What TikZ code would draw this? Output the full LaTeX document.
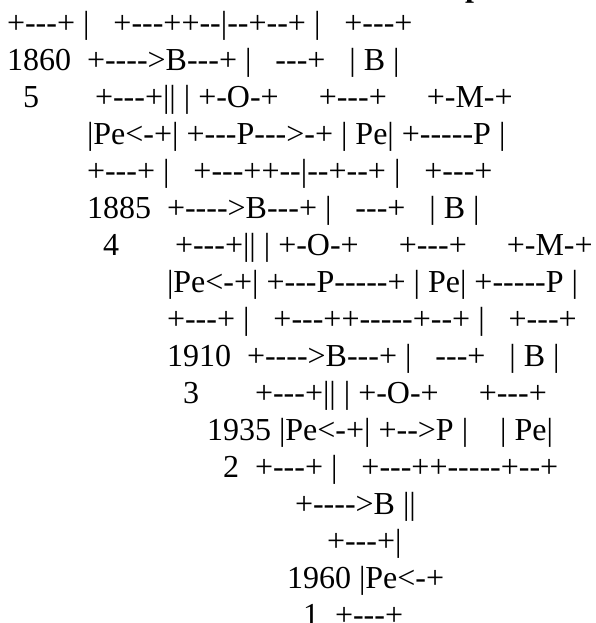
\documentclass[tikz,border=0pt]{standalone}
\usepackage{fontspec}
\newfontfamily\asciifont{Liberation Serif}
\usetikzlibrary{positioning}
\newcommand{\gap}[1]{\hspace*{#1\fontdimen2\font}}

\begin{document}
\begin{tikzpicture}[x=1pt, y=1pt,
    row/.style={anchor=base west, inner sep=0pt, outer sep=0pt, font=\asciifont\fontsize{32}{37}\selectfont},
    head/.style={row, font=\asciifont\bfseries\fontsize{32}{37}\selectfont}
]
    \useasboundingbox (0,0) rectangle (595,623);

    % cut-off heading above
    \node[head] (heading) at (465,626) {p};

    % block 1860
    \node[row] (r1) at (7,589) {+---+\gap1|\gap3+---++--|--+--+\gap1|\gap3+---+};
    \node[row] (r2) at (7,552.06) {1860\gap2+---->B---+\gap1|\gap3---+\gap3|\gap1B\gap1|};
    \node[row] (r3) at (23,515.12) {5\gap7+---+||\gap1|\gap1+-O-+\gap5+---+\gap5+-M-+};
    \node[row] (r4) at (87,478.18) {|Pe<-+|\gap1+---P--->-+\gap1|\gap1Pe|\gap1+-----P\gap1|};

    % block 1885
    \node[row] (r5) at (87,441.24) {+---+\gap1|\gap3+---++--|--+--+\gap1|\gap3+---+};
    \node[row] (r6) at (87,404.3) {1885\gap2+---->B---+\gap1|\gap3---+\gap3|\gap1B\gap1|};
    \node[row] (r7) at (103,367.36) {4\gap7+---+||\gap1|\gap1+-O-+\gap5+---+\gap5+-M-+};
    \node[row] (r8) at (167,330.42) {|Pe<-+|\gap1+---P-----+\gap1|\gap1Pe|\gap1+-----P\gap1|};

    % block 1910
    \node[row] (r9) at (167,293.48) {+---+\gap1|\gap3+---++-----+--+\gap1|\gap3+---+};
    \node[row] (r10) at (167,256.54) {1910\gap2+---->B---+\gap1|\gap3---+\gap3|\gap1B\gap1|};
    \node[row] (r11) at (183,219.6) {3\gap7+---+||\gap1|\gap1+-O-+\gap5+---+};
    \node[row] (r12) at (207,182.66) {1935\gap1|Pe<-+|\gap1+-->P\gap1|\gap4|\gap1Pe|};

    % block 1935
    \node[row] (r13) at (223,145.72) {2\gap2+---+\gap1|\gap3+---++-----+--+};
    \node[row] (r14) at (295,108.78) {+---->B\gap1||};
    \node[row] (r15) at (327,71.84) {+---+|};
    \node[row] (r16) at (287,34.9) {1960\gap1|Pe<-+};
    \node[row] (r17) at (303,-2.04) {1\gap2+---+};
\end{tikzpicture}
\end{document}
